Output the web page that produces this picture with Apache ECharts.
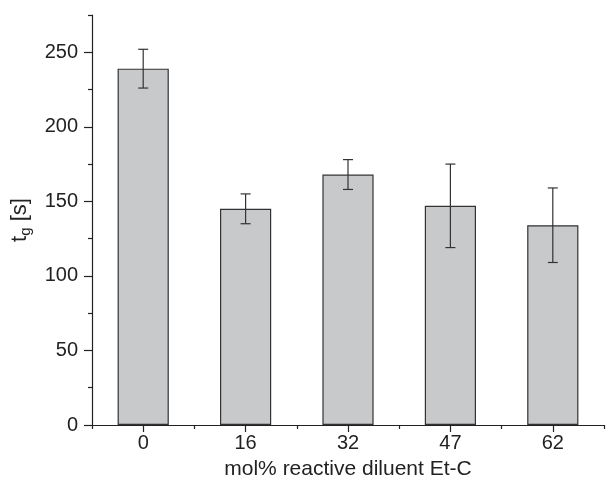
<!DOCTYPE html>
<html>
<head>
<meta charset="utf-8">
<script src="https://cdn.jsdelivr.net/npm/echarts@6/dist/echarts.min.js"></script>
<style>html,body{margin:0;padding:0;background:#fff}#c{width:606px;height:494px}</style>
</head>
<body>
<div id="c"></div>
<script>
const categories = ['0', '16', '32', '47', '62'];
const values = [239, 145, 168, 147, 134];
const errLow = [226, 135, 158, 119, 109];
const errHigh = [252, 155, 178, 175, 159];
const yMajorTicks = [0, 50, 100, 150, 200, 250];
const yMinorTicks = [25, 75, 125, 175, 225, 275];

const FONT = 'Liberation Sans, Arial, sans-serif';
const AX = '#222';
const chart = echarts.init(document.getElementById('c'), null, {renderer: 'canvas'});
const errData = categories.map((c, i) => [i, errLow[i], errHigh[i]]);

chart.setOption({
  animation: false,
  grid: {left: 92, right: 2, top: 15, bottom: 69, containLabel: false},
  xAxis: [{
    type: 'category', data: categories, boundaryGap: true,
    axisLine: {show: true, lineStyle: {color: AX, width: 1.2}},
    axisTick: {show: true, alignWithLabel: true, length: 7, lineStyle: {color: AX, width: 1.2}},
    axisLabel: {color: '#222', fontFamily: FONT, fontSize: 20, margin: 8},
    splitLine: {show: false},
    name: 'mol% reactive diluent Et-C', nameLocation: 'middle', nameGap: 34,
    nameTextStyle: {color: '#222', fontFamily: FONT, fontSize: 21}
  }, {
    type: 'category', data: categories, boundaryGap: true, position: 'bottom',
    axisLine: {show: false},
    axisTick: {show: true, alignWithLabel: false, length: 4, lineStyle: {color: AX, width: 1.2}},
    axisLabel: {show: false}, splitLine: {show: false}
  }],
  yAxis: [{
    type: 'value', min: 0, max: 275, interval: 25,
    axisLine: {show: true, lineStyle: {color: AX, width: 1.2}},
    axisTick: {show: true, length: 8, customValues: yMajorTicks, lineStyle: {color: AX, width: 1.2}},
    axisLabel: {color: '#222', fontFamily: FONT, fontSize: 20, margin: 14, customValues: yMajorTicks},
    splitLine: {show: false},
    name: 't{sub|g} [s]', nameLocation: 'middle', nameGap: 56, nameRotate: 90,
    nameTextStyle: {color: '#222', fontFamily: FONT, fontSize: 22,
      rich: {sub: {fontFamily: FONT, fontSize: 15, verticalAlign: 'bottom', padding: [12, 0, 0, 0], color: '#222'}}}
  }, {
    type: 'value', min: 0, max: 275, interval: 25, position: 'left',
    axisLine: {show: false},
    axisTick: {show: true, length: 4, customValues: yMinorTicks, lineStyle: {color: AX, width: 1.2}},
    axisLabel: {show: false}, splitLine: {show: false}
  }],
  series: [{
    type: 'bar', data: values, barWidth: '50%',
    itemStyle: {color: '#c8c9cb', borderColor: '#333', borderWidth: 1.2}
  }, {
    type: 'custom', data: errData,
    renderItem: function (params, api) {
      const x = api.value(0);
      const lo = api.coord([x, api.value(1)]);
      const hi = api.coord([x, api.value(2)]);
      const hw = 5;
      const st = {stroke: '#333', lineWidth: 1.2};
      return {type: 'group', children: [
        {type: 'line', shape: {x1: lo[0], y1: lo[1], x2: hi[0], y2: hi[1]}, style: st},
        {type: 'line', shape: {x1: lo[0] - hw, y1: lo[1], x2: lo[0] + hw, y2: lo[1]}, style: st},
        {type: 'line', shape: {x1: hi[0] - hw, y1: hi[1], x2: hi[0] + hw, y2: hi[1]}, style: st}
      ]};
    },
    z: 5
  }]
});
</script>
</body>
</html>
